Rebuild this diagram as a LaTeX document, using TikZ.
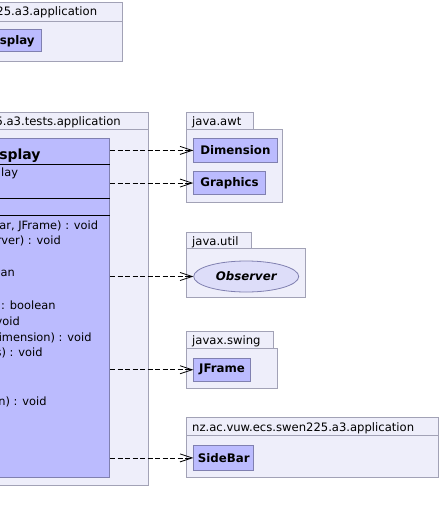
\documentclass[tikz,border=0pt]{standalone}
\usepackage{fontspec}
\setmainfont{DejaVu Sans}
\usepackage{tikz}
\usetikzlibrary{arrows.meta, shapes.geometric, positioning}
\definecolor{PkgFill}{HTML}{EEEEFA}
\definecolor{PkgLine}{HTML}{A2A2B6}
\definecolor{ClassFill}{HTML}{BBBBFE}
\definecolor{ClassLine}{HTML}{8080B0}
\definecolor{IfaceFill}{HTML}{DDDDF9}

\begin{document}
\begin{tikzpicture}[x=1pt, y=-1pt,
    pkg/.style={rectangle, draw=PkgLine, fill=PkgFill, anchor=north west,
                inner sep=0pt, line width=0.8pt},
    pkgname/.style={font=\fontsize{11.6}{13}\selectfont, inner sep=0pt},
    cls/.style={rectangle, draw=ClassLine, fill=ClassFill, anchor=north west,
                inner sep=0pt, line width=0.8pt, font=\fontsize{11.8}{13}\selectfont\bfseries},
    member/.style={font=\fontsize{11.4}{13}\selectfont, inner sep=0pt, anchor=base east},
    dep/.style={dash pattern=on 5pt off 2.5pt, line width=0.8pt,
                -{Straight Barb[length=12pt, width=8pt]}}
]
    \useasboundingbox (0,0) rectangle (442,523);

    % left packages
    \node[pkg, minimum width=126.7pt, minimum height=19pt] (appTab) at (-5,1.7) {};
    \node[pkg, minimum width=126.7pt, minimum height=40pt] (appBody) at (-5,20.7) {};
    \node[pkgname, anchor=base east] (appName) at (97.3,15.5) {25.a3.application};
    \node[cls, minimum width=45.7pt, minimum height=21.4pt] (appDisp) at (-5,29.3) {};
    \node[cls, anchor=base east, draw=none, fill=none] at (35,44.5) {splay};

    \node[pkg, minimum width=153.3pt, minimum height=17.3pt] (testTab) at (-5,111.7) {};
    \node[pkg, minimum width=153.3pt, minimum height=356pt] (testBody) at (-5,129) {};
    \node[pkgname, anchor=base east] (testName) at (121,125) {5.a3.tests.application};

    % the test class
    \node[cls, minimum width=114.3pt, minimum height=339pt] (display) at (-5,138.3) {};
    \node[cls, anchor=base east, draw=none, fill=none, font=\fontsize{14}{16}\selectfont\bfseries]
        (dispName) at (41,159) {splay};
    \foreach \yl in {164.3, 198.3, 215}
        \draw[line width=0.8pt] (display.west |- 0,\yl) -- (display.east |- 0,\yl);
    \node[member] (attr) at (18.3,176.7) {lay};
    \foreach \xe/\yb/\txt [count=\i] in {98.3/229/{ar, JFrame) : void}, 61/244.3/{rver) : void},
            15/276.7/{an}, 55.7/309/{: boolean}, 20/325/{void},
            91.7/341/{Dimension) : void}, 42.7/356.7/{s) : void}, 46.7/405/{n) : void}}
        \node[member] (m\i) at (\xe,\yb) {\txt};

    % java.awt
    \node[pkg, minimum width=67.3pt, minimum height=17.3pt] (awtTab) at (186,111.7) {};
    \node[pkg, minimum width=95.7pt, minimum height=73pt] (awtBody) at (186,129) {};
    \node[pkgname, anchor=base west] (awtName) at (192,125.7) {java.awt};
    \node[cls, minimum width=83.3pt, minimum height=23.4pt] (dim) at (193.3,138.3) {Dimension};
    \node[cls, minimum width=71.7pt, minimum height=23.3pt] (gfx) at (193.3,171) {Graphics};

    % java.util
    \node[pkg, minimum width=64.7pt, minimum height=16.6pt] (utilTab) at (186,231.7) {};
    \node[pkg, minimum width=119pt, minimum height=48.4pt] (utilBody) at (186,248.3) {};
    \node[pkgname, anchor=base west] (utilName) at (192,245) {java.util};
    \node[ellipse, draw=ClassLine, fill=IfaceFill, line width=0.8pt, anchor=west,
          minimum width=105pt, minimum height=31pt, inner sep=0pt,
          font=\fontsize{11.8}{13}\selectfont\bfseries\itshape] (obs) at (193.3,276.5) {Observer};

    % javax.swing
    \node[pkg, minimum width=86.7pt, minimum height=16.7pt] (swingTab) at (186,331) {};
    \node[pkg, minimum width=90.7pt, minimum height=40.6pt] (swingBody) at (186,347.7) {};
    \node[pkgname, anchor=base west] (swingName) at (192,344.4) {javax.swing};
    \node[cls, minimum width=56.7pt, minimum height=23.3pt] (frame) at (193.3,357.7) {JFrame};

    % nz.ac.vuw.ecs.swen225.a3.application
    \node[pkg, minimum width=252.3pt, minimum height=18pt] (nzTab) at (186,417) {};
    \node[pkg, minimum width=252.3pt, minimum height=42pt] (nzBody) at (186,435) {};
    \node[pkgname, anchor=base west] (nzName) at (192,431.5) {nz.ac.vuw.ecs.swen225.a3.application};
    \node[cls, minimum width=60pt, minimum height=25pt] (side) at (193.3,445) {SideBar};

    % dependencies
    \draw[dep] (display.east |- dim) -- (dim);
    \draw[dep] (display.east |- gfx) -- (gfx);
    \draw[dep] (display.east |- obs) -- (obs);
    \draw[dep] (display.east |- frame) -- (frame);
    \draw[dep] (display.east |- side) -- (side);
\end{tikzpicture}
\end{document}
